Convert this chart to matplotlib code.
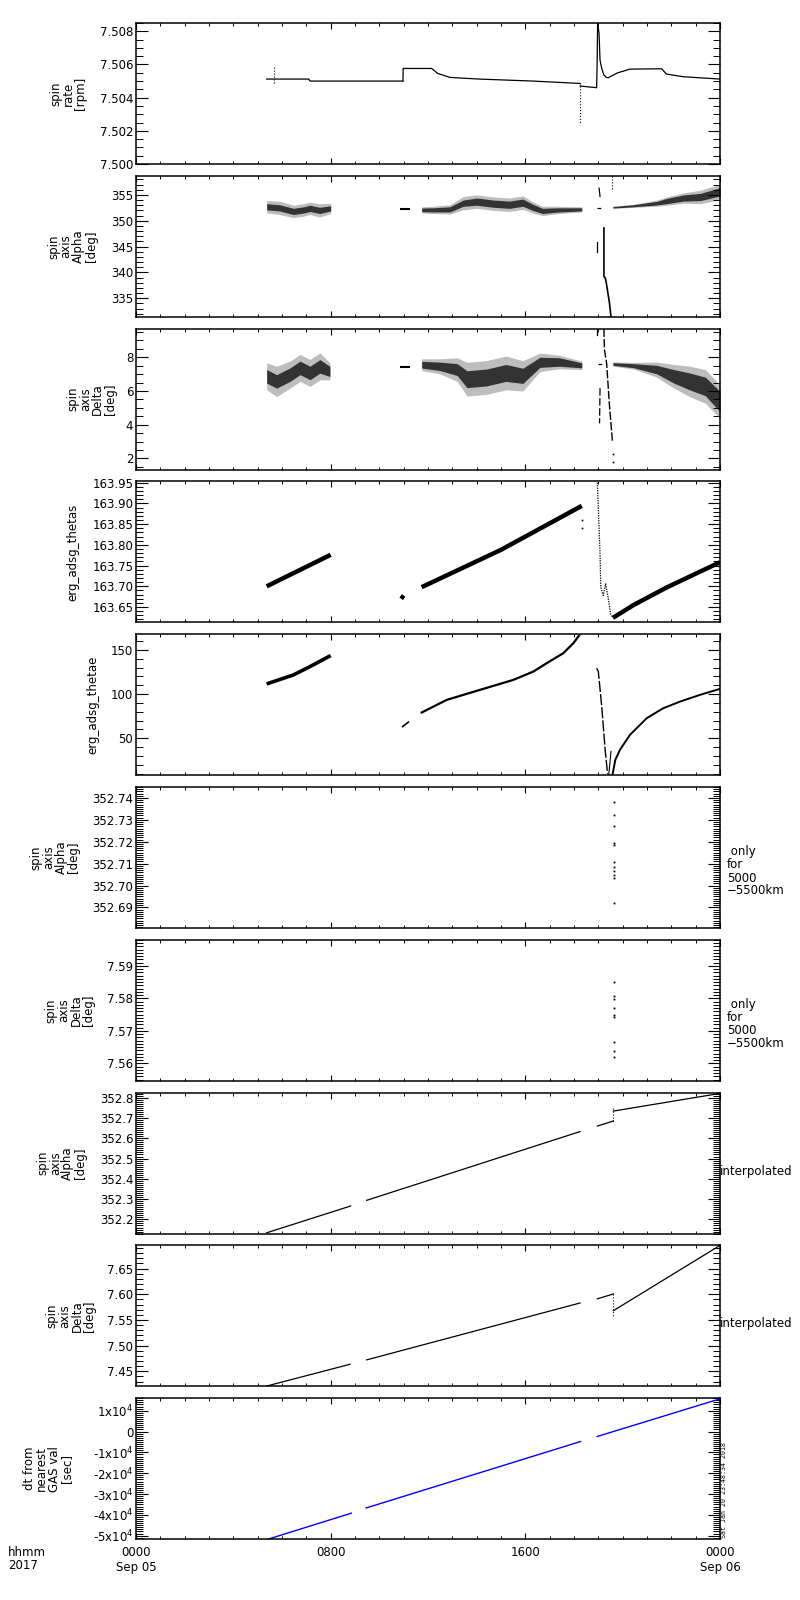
import matplotlib
matplotlib.use('Agg')
import matplotlib.pyplot as plt
from matplotlib.ticker import MultipleLocator, FixedLocator, FixedFormatter

plt.rcParams['font.family'] = ['DejaVu Sans']

# ---------------- data (hours since 2017-09-05 00:00) ----------------
# Panel 1: spin rate [rpm]
rate_seg1_h = [5.37, 7.10, 7.15, 10.97]
rate_seg1_v = [7.50512, 7.50512, 7.50500, 7.50500]
rate_spike1_h = [5.67, 5.67]
rate_spike1_v = [7.50488, 7.50590]
rate_seg2_h = [10.97, 10.98, 12.15, 12.40, 12.90, 14.10, 16.30, 18.20, 18.25]
rate_seg2_v = [7.50500, 7.50576, 7.50576, 7.50546, 7.50522, 7.50512, 7.50500, 7.50486, 7.50486]
rate_dip_h = [18.25, 18.25]
rate_dip_v = [7.50486, 7.50240]
rate_seg3_h = [18.25, 18.93, 18.95, 18.97, 19.03, 19.07, 19.14, 19.23, 19.34, 19.40,
               19.80, 20.30, 21.60, 21.80, 22.50, 24.00]
rate_seg3_v = [7.50470, 7.50460, 7.50600, 7.50850, 7.50786, 7.50626, 7.50576, 7.50536,
               7.50522, 7.50520, 7.50550, 7.50572, 7.50574, 7.50542, 7.50526, 7.50512]

# Panel 2: spin axis Alpha [deg]  (bands: centre, dense half-width, sparse half-width)
alpha_b1_h = [5.37, 5.90, 6.47, 6.90, 7.15, 7.55, 8.00]
alpha_b1_c = [352.7, 352.5, 351.8, 352.1, 352.4, 352.0, 352.4]
alpha_b1_d = [0.6, 0.6, 0.6, 0.6, 0.6, 0.6, 0.5]
alpha_b1_s = [1.2, 1.3, 1.2, 1.2, 1.2, 1.3, 1.0]
alpha_b2_h = [11.74, 12.20, 12.90, 13.45, 14.00, 14.70, 15.35, 15.90, 16.30, 16.70, 17.40, 18.32]
alpha_b2_c = [352.1, 352.1, 352.2, 353.4, 353.7, 353.3, 353.1, 353.5, 352.6, 351.9, 352.1, 352.2]
alpha_b2_d = [0.35, 0.4, 0.5, 0.6, 0.7, 0.7, 0.7, 0.7, 0.6, 0.5, 0.4, 0.3]
alpha_b2_s = [0.6, 0.7, 0.9, 1.3, 1.3, 1.3, 1.3, 1.3, 1.1, 0.9, 0.7, 0.5]
alpha_b3_h = [19.60, 20.45, 21.40, 21.80, 22.50, 23.20, 24.00]
alpha_b3_c = [352.6, 352.9, 353.4, 353.8, 354.4, 354.6, 355.6]
alpha_b3_d = [0.15, 0.2, 0.35, 0.5, 0.6, 0.7, 0.8]
alpha_b3_s = [0.2, 0.3, 0.6, 0.8, 1.0, 1.3, 1.5]
alpha_dash1_h = [10.90, 11.20]
alpha_dash1_v = [352.3, 352.3]
alpha_dash2_h = [18.93, 19.20]
alpha_dash2_v = [352.4, 352.4]
alpha_v1_h = [19.03, 19.07]
alpha_v1_v = [356.3, 354.7]
alpha_v2_h = [18.93, 18.93]
alpha_v2_v = [345.8, 344.0]
alpha_v3_h = [19.23, 19.23, 19.29, 19.34, 19.40, 19.46, 19.52]
alpha_v3_v = [348.6, 339.2, 338.9, 337.6, 335.8, 334.0, 331.4]
alpha_v4_h = [19.58, 19.58]
alpha_v4_v = [358.7, 356.0]

# Panel 3: spin axis Delta [deg]
delta_b1_h = [5.37, 5.78, 6.33, 6.74, 7.15, 7.56, 7.97]
delta_b1_c = [6.87, 6.57, 6.97, 7.37, 7.07, 7.46, 7.16]
delta_b1_d = [0.4, 0.4, 0.4, 0.4, 0.4, 0.4, 0.3]
delta_b1_s = [0.8, 0.9, 0.8, 0.8, 0.8, 0.8, 0.5]
delta_b2_h = [11.74, 12.50, 13.20, 13.60, 14.40, 15.20, 15.90, 16.60, 17.40, 18.32]
delta_b2_c = [7.56, 7.46, 7.27, 6.70, 6.80, 7.07, 6.90, 7.70, 7.72, 7.52]
delta_b2_d = [0.2, 0.25, 0.35, 0.5, 0.5, 0.5, 0.45, 0.3, 0.25, 0.15]
delta_b2_s = [0.35, 0.45, 0.7, 1.0, 1.0, 1.0, 0.9, 0.55, 0.4, 0.25]
delta_b3_h = [19.60, 20.45, 21.40, 22.10, 22.75, 23.40, 24.00]
delta_b3_c = [7.60, 7.50, 7.27, 6.87, 6.57, 6.27, 5.37]
delta_b3_d = [0.08, 0.12, 0.25, 0.4, 0.5, 0.55, 0.6]
delta_b3_s = [0.12, 0.2, 0.45, 0.7, 0.9, 1.0, 1.0]
delta_dash1_h = [10.90, 11.20]
delta_dash1_v = [7.40, 7.40]
delta_dash2_h = [19.00, 19.20]
delta_dash2_v = [7.60, 7.60]
delta_v1_h = [18.93, 18.93]
delta_v1_v = [9.65, 9.35]
delta_v2_h = [19.07, 19.05]
delta_v2_v = [6.17, 4.08]
delta_v3_h = [19.23, 19.25, 19.34, 19.45, 19.58]
delta_v3_v = [9.70, 8.46, 7.66, 5.28, 2.99]
delta_dots_h = [19.60, 19.60]
delta_dots_v = [2.29, 1.79]

# Panel 4: erg_adsg_thetas
thetas_s1_h = [5.37, 8.00]
thetas_s1_v = [163.700, 163.776]
thetas_s2_h = [10.90, 11.00]
thetas_s2_v = [163.670, 163.678]
thetas_s3_h = [11.74, 15.00, 18.32]
thetas_s3_v = [163.698, 163.788, 163.894]
thetas_out_h = [18.32, 18.32]
thetas_out_v = [163.860, 163.840]
thetas_s4_h = [18.96, 19.07, 19.10, 19.20, 19.30, 19.40, 19.50, 19.60]
thetas_s4_v = [163.950, 163.778, 163.698, 163.678, 163.706, 163.674, 163.634, 163.624]
thetas_s5_h = [19.60, 20.45, 21.80, 23.20, 24.00]
thetas_s5_v = [163.624, 163.655, 163.697, 163.736, 163.758]

# Panel 5: erg_adsg_thetae
thetae_s1_h = [5.37, 6.47, 7.15, 8.00]
thetae_s1_v = [111.5, 121.7, 131.1, 143.6]
thetae_s2_h = [10.96, 11.19]
thetae_s2_v = [63.2, 68.2]
thetae_s3_h = [11.74, 12.77, 14.14, 15.50, 16.33, 16.88, 17.56, 17.97, 18.25]
thetae_s3_v = [79.1, 93.4, 104.8, 116.0, 125.5, 135.0, 146.3, 157.5, 167.8]
thetae_s4_h = [18.93, 19.00, 19.14, 19.28, 19.38]
thetae_s4_v = [129.3, 125.5, 85.9, 36.9, 9.7]
thetae_s5_h = [19.43, 19.52]
thetae_s5_v = [8.5, 35.0]
thetae_s6_h = [19.58, 19.70, 19.89, 20.30, 20.99, 21.67, 22.36, 23.18, 24.00]
thetae_s6_v = [8.5, 25.6, 36.9, 53.8, 72.7, 84.0, 91.5, 99.1, 105.9]

# Panel 6: spin axis Alpha, only for 5000-5500 km
alpha_only_h = [19.64] * 11
alpha_only_v = [352.7382, 352.7324, 352.7274, 352.7195, 352.7187, 352.7106,
                352.7086, 352.7068, 352.7050, 352.7035, 352.6921]

# Panel 7: spin axis Delta, only for 5000-5500 km
delta_only_h = [19.64] * 9
delta_only_v = [7.5851, 7.5808, 7.5798, 7.5769, 7.5748, 7.5741, 7.5664, 7.5638, 7.5618]

# Panel 8: spin axis Alpha, interpolated
alpha_i_s1_h = [5.37, 8.82]
alpha_i_s1_v = [352.134, 352.266]
alpha_i_s2_h = [9.48, 18.25]
alpha_i_s2_v = [352.294, 352.633]
alpha_i_s3_h = [18.96, 19.62]
alpha_i_s3_v = [352.660, 352.685]
alpha_i_jump_h = [19.62, 19.62]
alpha_i_jump_v = [352.685, 352.751]
alpha_i_s4_h = [19.62, 24.00]
alpha_i_s4_v = [352.734, 352.821]

# Panel 9: spin axis Delta, interpolated
delta_i_s1_h = [5.37, 8.80]
delta_i_s1_v = [7.4214, 7.4638]
delta_i_s2_h = [9.48, 18.25]
delta_i_s2_v = [7.4723, 7.5830]
delta_i_s3_h = [18.96, 19.62]
delta_i_s3_v = [7.5910, 7.6006]
delta_i_jump_h = [19.62, 19.62]
delta_i_jump_v = [7.6006, 7.5557]
delta_i_s4_h = [19.62, 24.00]
delta_i_s4_v = [7.5680, 7.6950]

# Panel 10: dt from nearest GAS val [sec]
dt_s1_h = [5.37, 8.85]
dt_s1_v = [-51900, -39200]
dt_s2_h = [9.46, 18.27]
dt_s2_v = [-36700, -4800]
dt_s3_h = [18.95, 24.00]
dt_s3_v = [-2400, 15700]

# axis settings
ylabels = ["spin\nrate\n[rpm]", "spin\naxis\nAlpha\n[deg]", "spin\naxis\nDelta\n[deg]",
           "erg_adsg_thetas", "erg_adsg_thetae", "spin\naxis\nAlpha\n[deg]",
           "spin\naxis\nDelta\n[deg]", "spin\naxis\nAlpha\n[deg]", "spin\naxis\nDelta\n[deg]",
           "dt from\nnearest\nGAS val\n[sec]"]
ylims = [(7.500, 7.5085), (331.4, 358.7), (1.34, 9.7), (163.613, 163.953), (8.1, 167.8),
         (352.6806, 352.745), (7.5546, 7.598), (352.13, 352.825), (7.4207, 7.695),
         (-51700, 16000)]
ymajor = [[7.500, 7.502, 7.504, 7.506, 7.508], [335, 340, 345, 350, 355], [2, 4, 6, 8],
          [163.65, 163.70, 163.75, 163.80, 163.85, 163.90, 163.95], [50, 100, 150],
          [352.69, 352.70, 352.71, 352.72, 352.73, 352.74], [7.56, 7.57, 7.58, 7.59],
          [352.2, 352.3, 352.4, 352.5, 352.6, 352.7, 352.8],
          [7.45, 7.50, 7.55, 7.60, 7.65],
          [-50000, -40000, -30000, -20000, -10000, 0, 10000]]
ytick_labels = [["7.500", "7.502", "7.504", "7.506", "7.508"],
                ["335", "340", "345", "350", "355"],
                ["2", "4", "6", "8"],
                ["163.65", "163.70", "163.75", "163.80", "163.85", "163.90", "163.95"],
                ["50", "100", "150"],
                ["352.69", "352.70", "352.71", "352.72", "352.73", "352.74"],
                ["7.56", "7.57", "7.58", "7.59"],
                ["352.2", "352.3", "352.4", "352.5", "352.6", "352.7", "352.8"],
                ["7.45", "7.50", "7.55", "7.60", "7.65"],
                ["-5x10$^{4}$", "-4x10$^{4}$", "-3x10$^{4}$", "-2x10$^{4}$",
                 "-1x10$^{4}$", "0", "1x10$^{4}$"]]
yminor = [0.0005, 1, 0.5, 0.01, 10, 0.001, 0.001, 0.01, 0.01, 1000]
xmajor = [0, 8, 16, 24]
xtick_labels = ["0000\nSep 05", "0800", "1600", "0000\nSep 06"]

# ---------------- layout ----------------
W, H = 800, 1600
fig = plt.figure(figsize=(8, 16), dpi=100)
AX_L, AX_R = 136, 720
TOP0, STEP, PH = 23, 152.8, 141
label_cx = [68.5, 72.5, 91.5, 72.5, 92.5, 55, 70, 61.5, 71, 48]
FS = 8.5

axes = []
for i in range(10):
    top = TOP0 + STEP * i
    ax = fig.add_axes([AX_L / W, 1 - (top + PH) / H, (AX_R - AX_L) / W, PH / H])
    ax.set_xlim(0, 24)
    ax.set_ylim(*ylims[i])
    ax.xaxis.set_major_locator(FixedLocator(xmajor))
    ax.xaxis.set_minor_locator(MultipleLocator(1))
    ax.yaxis.set_major_locator(FixedLocator(ymajor[i]))
    ax.yaxis.set_major_formatter(FixedFormatter(ytick_labels[i]))
    ax.yaxis.set_minor_locator(MultipleLocator(yminor[i]))
    ax.tick_params(axis='y', which='major', direction='in', length=8.6, width=0.8,
                   left=True, right=True, labelsize=FS, pad=2)
    ax.tick_params(axis='y', which='minor', direction='in', length=5, width=0.7,
                   left=True, right=True)
    ax.tick_params(axis='x', which='major', direction='in', length=4.3, width=0.8,
                   top=True, bottom=True, labelsize=FS, pad=5)
    ax.tick_params(axis='x', which='minor', direction='in', length=2.2, width=0.7,
                   top=True, bottom=True)
    if i == 9:
        ax.set_xticklabels(xtick_labels)
    else:
        ax.set_xticklabels([])
    for sp in ax.spines.values():
        sp.set_linewidth(1.1)
    cy = top + PH / 2
    fig.text(label_cx[i] / W, 1 - cy / H, ylabels[i], rotation=90, ha='center',
             va='center', fontsize=FS, linespacing=0.95, multialignment='center')
    axes.append(ax)

K = 'black'
LW = 0.9


def band(ax, h, c, d, s):
    lo_s = [a - b for a, b in zip(c, s)]
    hi_s = [a + b for a, b in zip(c, s)]
    lo_d = [a - b for a, b in zip(c, d)]
    hi_d = [a + b for a, b in zip(c, d)]
    ax.fill_between(h, lo_s, hi_s, color='0.74', lw=0)
    ax.fill_between(h, lo_d, hi_d, color='0.2', lw=0)


# Panel 1
ax = axes[0]
ax.plot(rate_seg1_h, rate_seg1_v, color=K, lw=LW)
ax.plot(rate_spike1_h, rate_spike1_v, color=K, lw=0.8, ls=':')
ax.plot(rate_seg2_h, rate_seg2_v, color=K, lw=LW)
ax.plot(rate_dip_h, rate_dip_v, color=K, lw=0.8, ls=':')
ax.plot(rate_seg3_h, rate_seg3_v, color=K, lw=LW)

# Panel 2
ax = axes[1]
band(ax, alpha_b1_h, alpha_b1_c, alpha_b1_d, alpha_b1_s)
band(ax, alpha_b2_h, alpha_b2_c, alpha_b2_d, alpha_b2_s)
band(ax, alpha_b3_h, alpha_b3_c, alpha_b3_d, alpha_b3_s)
ax.plot(alpha_dash1_h, alpha_dash1_v, color=K, lw=1.5)
ax.plot(alpha_dash2_h, alpha_dash2_v, color=K, lw=LW, ls=(0, (3, 3)))
ax.plot(alpha_v1_h, alpha_v1_v, color=K, lw=LW)
ax.plot(alpha_v2_h, alpha_v2_v, color=K, lw=LW)
ax.plot(alpha_v3_h, alpha_v3_v, color=K, lw=1.2)
ax.plot(alpha_v4_h, alpha_v4_v, color=K, lw=0.8, ls=':')

# Panel 3
ax = axes[2]
band(ax, delta_b1_h, delta_b1_c, delta_b1_d, delta_b1_s)
band(ax, delta_b2_h, delta_b2_c, delta_b2_d, delta_b2_s)
band(ax, delta_b3_h, delta_b3_c, delta_b3_d, delta_b3_s)
ax.plot(delta_dash1_h, delta_dash1_v, color=K, lw=1.5)
ax.plot(delta_dash2_h, delta_dash2_v, color=K, lw=LW, ls=(0, (3, 3)))
ax.plot(delta_v1_h, delta_v1_v, color=K, lw=LW)
ax.plot(delta_v2_h, delta_v2_v, color=K, lw=LW, ls=(0, (6, 2)))
ax.plot(delta_v3_h, delta_v3_v, color=K, lw=1.0, ls=(0, (6, 1.5)))
ax.plot(delta_dots_h, delta_dots_v, 's', color=K, ms=1.2, mew=0)

# Panel 4
ax = axes[3]
ax.plot(thetas_s1_h, thetas_s1_v, color=K, lw=3.2, solid_capstyle='butt')
ax.plot(thetas_s2_h, thetas_s2_v, color=K, lw=3.2, solid_capstyle='butt')
ax.plot(thetas_s3_h, thetas_s3_v, color=K, lw=3.2, solid_capstyle='butt')
ax.plot(thetas_out_h, thetas_out_v, 's', color=K, ms=1.2, mew=0)
ax.plot(thetas_s4_h, thetas_s4_v, color=K, lw=0.9, ls=(0, (1, 1)))
ax.plot(thetas_s5_h, thetas_s5_v, color=K, lw=3.2, solid_capstyle='butt')

# Panel 5
ax = axes[4]
ax.plot(thetae_s1_h, thetae_s1_v, color=K, lw=2.6, solid_capstyle='butt')
ax.plot(thetae_s2_h, thetae_s2_v, color=K, lw=1.2)
ax.plot(thetae_s3_h, thetae_s3_v, color=K, lw=1.6)
ax.plot(thetae_s4_h, thetae_s4_v, color=K, lw=1.0, ls=(0, (8, 1.5)))
ax.plot(thetae_s5_h, thetae_s5_v, color=K, lw=0.8)
ax.plot(thetae_s6_h, thetae_s6_v, color=K, lw=1.4)

# Panel 6, 7
axes[5].plot(alpha_only_h, alpha_only_v, 's', color=K, ms=1.3, mew=0)
axes[6].plot(delta_only_h, delta_only_v, 's', color=K, ms=1.3, mew=0)

# Panel 8
ax = axes[7]
for hh, vv in [(alpha_i_s1_h, alpha_i_s1_v), (alpha_i_s2_h, alpha_i_s2_v),
               (alpha_i_s3_h, alpha_i_s3_v), (alpha_i_s4_h, alpha_i_s4_v)]:
    ax.plot(hh, vv, color=K, lw=LW)
ax.plot(alpha_i_jump_h, alpha_i_jump_v, color=K, lw=0.8, ls=':')

# Panel 9
ax = axes[8]
for hh, vv in [(delta_i_s1_h, delta_i_s1_v), (delta_i_s2_h, delta_i_s2_v),
               (delta_i_s3_h, delta_i_s3_v), (delta_i_s4_h, delta_i_s4_v)]:
    ax.plot(hh, vv, color=K, lw=LW)
ax.plot(delta_i_jump_h, delta_i_jump_v, color=K, lw=0.8, ls=':')

# Panel 10
ax = axes[9]
for hh, vv in [(dt_s1_h, dt_s1_v), (dt_s2_h, dt_s2_v), (dt_s3_h, dt_s3_v)]:
    ax.plot(hh, vv, color='#0000ff', lw=1.0)

# right-side annotations
for i in (5, 6):
    cy = TOP0 + STEP * i + PH / 2 + 14
    fig.text(727 / W, 1 - cy / H, " only\nfor\n5000\n\u22125500km", ha='left', va='center',
             fontsize=FS, linespacing=1.0)
for i in (7, 8):
    cy = TOP0 + STEP * i + PH / 2 + 8
    fig.text(720 / W, 1 - cy / H, "interpolated", ha='left', va='center', fontsize=FS)

# bottom-left time label
fig.text(8 / W, 1 - 1559 / H, "hhmm\n2017", ha='left', va='center', fontsize=FS,
         linespacing=1.0)

# timestamp
fig.text(724 / W, 1 - 1538 / H, "Sat Jan 20 23:48:34 2018", rotation=90, ha='center',
         va='bottom', fontsize=4.8, family='DejaVu Sans Mono')

fig.savefig('out.png', dpi=100)
